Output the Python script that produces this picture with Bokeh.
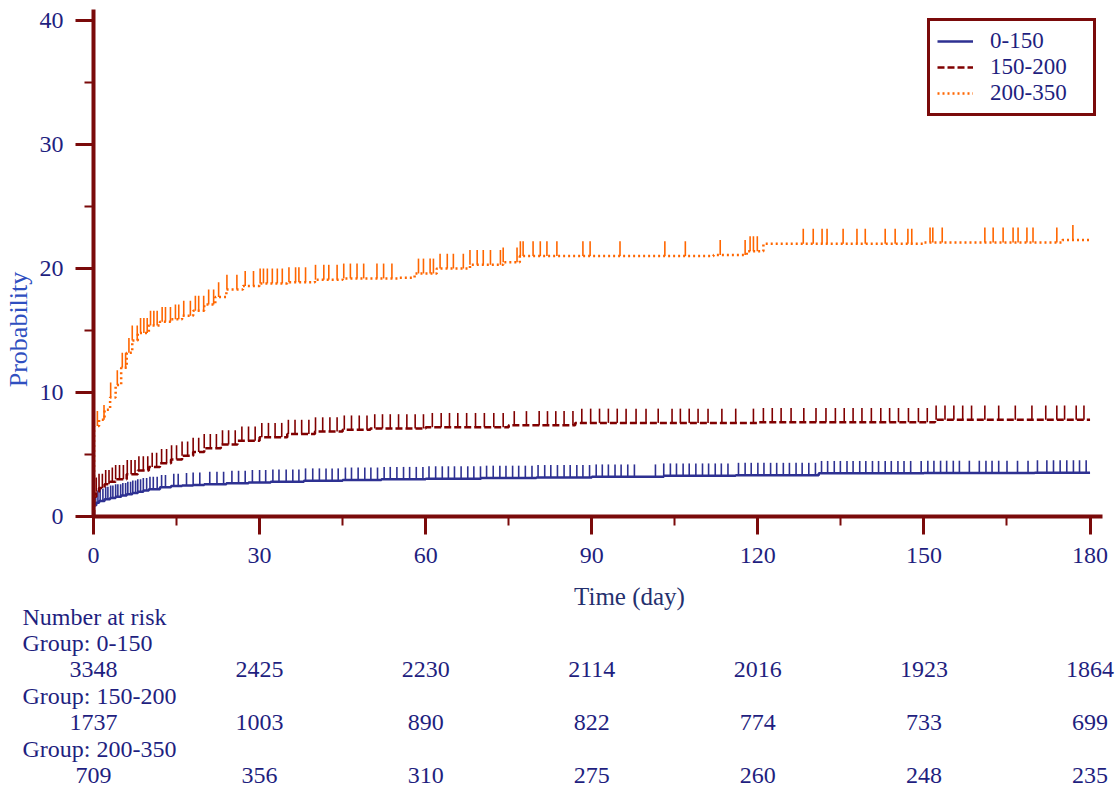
import numpy as np
from bokeh.plotting import figure
from bokeh.models import Range1d, SingleIntervalTicker, Legend, LegendItem
from bokeh.layouts import column, row
from bokeh.embed import file_html
from bokeh.resources import INLINE
from bokeh.core.properties import value

# ---------------- data ----------------
groups = ["0-150", "150-200", "200-350"]

# cumulative probability (%) step curves
t_0_150 = [0, 0.1, 0.5, 1, 2, 3, 4, 5, 6, 7, 8, 9, 10, 12, 14, 16, 18, 20, 24, 28, 32, 38,
           45, 52, 60, 70, 80, 90, 103, 116, 131, 150, 170, 180]
p_0_150 = [0.0, 0.9, 1.1, 1.25, 1.4, 1.5, 1.6, 1.7, 1.8, 1.9, 2.0, 2.1, 2.2, 2.35, 2.45, 2.5,
           2.55, 2.6, 2.68, 2.75, 2.8, 2.88, 2.95, 3.0, 3.05, 3.1, 3.15, 3.2, 3.28, 3.33,
           3.48, 3.5, 3.53, 3.53]

t_150_200 = [0, 0.1, 0.5, 1, 2, 3, 4, 6, 8, 10, 12, 14, 16, 18, 20, 23, 26, 30, 35, 40, 45,
             50, 60, 75, 87, 120, 152, 180]
p_150_200 = [0.0, 1.6, 2.0, 2.3, 2.6, 2.8, 3.0, 3.4, 3.7, 4.0, 4.3, 4.6, 4.9, 5.2, 5.5, 5.8,
             6.1, 6.4, 6.65, 6.85, 7.0, 7.1, 7.2, 7.35, 7.55, 7.6, 7.8, 7.8]

t_200_350 = [0, 0.1, 1, 2, 3, 4, 5, 6, 7, 8, 10, 12, 14, 16, 18, 20, 22, 24, 27, 30, 35, 40,
             45, 55, 58, 62, 68, 74, 77, 112, 118, 121, 150, 175, 180]
p_200_350 = [0.0, 7.3, 7.8, 8.6, 9.6, 10.6, 12.0, 13.2, 14.2, 14.8, 15.4, 15.7, 15.9, 16.2,
             16.6, 17.1, 17.7, 18.3, 18.6, 18.8, 18.9, 19.1, 19.2, 19.25, 19.6, 20.0, 20.3,
             20.5, 21.0, 21.1, 21.4, 22.0, 22.1, 22.3, 22.3]

# censoring times (days)
cens_0_150 = [0.4, 0.8, 1.2, 1.7, 2.2, 2.6, 3.1, 3.5, 4.0, 4.4, 4.9, 5.3, 5.8, 6.2, 6.7, 7.1,
              7.6, 8.0, 8.5, 9.0, 9.6, 10.2, 10.8, 11.5, 12.3, 13.0, 14.5, 15.3, 16.8, 18.0,
              19.2, 21.0, 22.3, 23.5, 25.0, 26.2, 27.4, 28.7, 30.0, 31.1, 32.4, 33.5, 34.8,
              36.0, 37.1, 38.3, 39.6, 40.8, 42.0, 43.1, 44.2, 45.5, 46.6, 47.8, 49.0, 50.1,
              51.3, 52.5, 53.6, 54.8, 56.0, 57.1, 58.3, 59.5, 60.6, 61.8, 63.0, 64.1, 65.2,
              66.4, 67.6, 68.7, 69.9, 71.0, 72.2, 73.4, 74.5, 75.7, 76.8, 78.0, 79.2, 80.3,
              81.5, 82.6, 83.8, 85.0, 86.1, 87.3, 88.4, 89.6, 90.8, 91.9, 93.0, 94.2, 95.3,
              96.5, 97.7, 101.5, 103.0, 104.2, 105.3, 106.5, 107.6, 108.8, 110.0, 111.1,
              112.3, 113.4, 114.6, 116.5, 117.7, 118.8, 120.0, 121.1, 122.3, 123.4, 124.6,
              125.7, 126.9, 128.0, 129.2, 130.4, 131.5, 132.6, 133.8, 134.9, 136.1, 137.2,
              138.4, 139.5, 140.7, 141.8, 143.0, 144.1, 145.3, 146.4, 147.6, 149.5, 150.7,
              151.8, 153.0, 154.1, 155.3, 156.4, 158.2, 160.0, 161.2, 162.3, 163.5, 165.0,
              166.9, 168.8, 170.5, 172.2, 173.4, 174.6, 175.8, 177.0, 178.1, 179.3]
cens_150_200 = [0.5, 1.0, 1.6, 2.2, 2.8, 3.4, 4.0, 4.7, 5.4, 6.1, 6.8, 7.5, 8.2, 9.0, 9.8,
                10.6, 11.4, 12.3, 13.2, 14.1, 15.0, 16.0, 17.0, 18.0, 19.0, 20.0, 21.1, 22.2,
                23.3, 24.4, 25.6, 26.8, 28.0, 29.2, 30.4, 31.6, 32.8, 34.0, 35.2, 36.4, 37.6,
                38.9, 40.1, 41.4, 42.7, 44.0, 45.3, 46.6, 48.0, 49.4, 50.8, 52.2, 53.6, 55.1,
                56.6, 58.1, 59.6, 61.2, 62.8, 64.3, 65.8, 67.4, 69.0, 70.6, 72.3, 74.0, 76.0,
                78.2, 80.5, 82.0, 83.5, 85.0, 86.6, 88.2, 89.8, 91.4, 93.0, 94.6, 96.2, 98.0,
                99.8, 102.0, 104.5, 106.0, 107.6, 109.2, 111.0, 113.5, 116.0, 119.2, 121.0,
                122.6, 124.2, 126.0, 128.3, 130.5, 132.3, 134.0, 135.6, 137.2, 138.8, 140.5,
                142.2, 143.8, 145.4, 147.2, 149.0, 150.6, 152.2, 153.8, 155.4, 157.0, 158.6,
                161.0, 163.5, 166.5, 169.5, 172.0, 174.0, 175.4, 177.5, 178.9]
cens_200_350 = [0.7, 1.9, 3.1, 4.3, 5.2, 5.8, 6.4, 7.0, 7.9, 8.5, 9.1, 9.7, 10.3, 10.9, 11.5,
                12.4, 13.0, 13.9, 14.8, 15.4, 16.3, 17.5, 18.4, 19.0, 19.9, 20.8, 21.7, 22.6,
                24.1, 25.9, 27.4, 28.9, 30.1, 30.7, 31.4, 32.3, 33.2, 34.1, 35.3, 36.5, 37.1,
                38.3, 40.1, 41.6, 42.5, 44.0, 45.2, 46.4, 47.6, 48.8, 51.2, 52.4, 53.9, 58.7,
                59.6, 60.8, 61.4, 62.6, 63.9, 65.0, 66.8, 68.0, 69.3, 70.4, 71.7, 73.5, 74.0,
                76.5, 77.1, 77.6, 79.4, 80.7, 81.9, 83.7, 88.4, 89.7, 95.1, 103.2, 106.9, 113.2,
                117.7, 118.6, 119.2, 119.9, 128.2, 130.0, 131.6, 132.5, 135.4, 137.9, 139.4,
                143.0, 144.8, 147.1, 147.8, 151.1, 151.6, 153.3, 161.0, 162.5, 164.3, 166.1,
                167.0, 168.6, 169.7, 174.0, 176.9]

risk_times = [0, 30, 60, 90, 120, 150, 180]
risk_0_150 = [3348, 2425, 2230, 2114, 2016, 1923, 1864]
risk_150_200 = [1737, 1003, 890, 822, 774, 733, 699]
risk_200_350 = [709, 356, 310, 275, 260, 248, 235]

# ---------------- style / layout ----------------
FONT = "Liberation Serif"
NAVY = "#1f1f7f"
AXIS = "#7a0a0a"
COLORS = ["#2e3192", "#800000", "#ff6600"]
DASHES = ["solid", "7 3", "2 3"]
MARK_H = [1.0, 1.15, 1.2]

W_TOTAL = 1115
LBL_W = 35                    # strip holding the rotated y title
FRAME_PAGE_L = 93             # frame left edge on the page
FRAME_R, FRAME_T, FRAME_H, BOTTOM = 13, 9, 507, 60
W_MAIN = W_TOTAL - LBL_W
FRAME_L = FRAME_PAGE_L - LBL_W
MAIN_H = FRAME_T + FRAME_H + BOTTOM
FRAME_W = W_MAIN - FRAME_L - FRAME_R
X_END = 182.25
Y_END = 40.89
TABLE_H = 214

p = figure(width=W_MAIN, height=MAIN_H, x_range=Range1d(0, X_END), y_range=Range1d(0, Y_END),
           output_backend="svg", toolbar_location=None,
           min_border_left=FRAME_L, min_border_right=FRAME_R,
           min_border_top=FRAME_T, min_border_bottom=BOTTOM)
p.outline_line_color = None
p.grid.visible = False
p.background_fill_color = "white"

p.xaxis.ticker = SingleIntervalTicker(interval=30, num_minor_ticks=2)
p.yaxis.ticker = SingleIntervalTicker(interval=10, num_minor_ticks=2)
for ax in (p.xaxis[0], p.yaxis[0]):
    ax.axis_line_color = AXIS
    ax.axis_line_width = 4
    ax.major_tick_line_color = AXIS
    ax.major_tick_line_width = 3
    ax.minor_tick_line_color = AXIS
    ax.minor_tick_line_width = 2
    ax.major_tick_out = 18
    ax.major_tick_in = 0
    ax.minor_tick_out = 9
    ax.minor_tick_in = 0
    ax.major_label_text_font = FONT
    ax.major_label_text_font_size = "24px"
    ax.major_label_text_color = NAVY
p.xaxis.major_label_standoff = 13
p.yaxis.major_label_standoff = 12

series = [(t_0_150, p_0_150, cens_0_150), (t_150_200, p_150_200, cens_150_200),
          (t_200_350, p_200_350, cens_200_350)]
items = []
for i, (tt, pp, cc) in enumerate(series):
    r = p.step(tt, pp, mode="after", line_color=COLORS[i], line_width=2.5,
               line_dash=DASHES[i])
    tt_a = np.array(tt, dtype=float)
    pp_a = np.array(pp, dtype=float)
    cc_a = np.array(cc, dtype=float)
    idx = np.searchsorted(tt_a, cc_a, side="right") - 1
    base = pp_a[idx]
    p.segment(x0=cc_a, y0=base, x1=cc_a, y1=base + MARK_H[i],
              line_color=COLORS[i], line_width=1.6)
    items.append(LegendItem(label=groups[i], renderers=[r]))

legend = Legend(items=items, location=(834, 400), orientation="vertical",
                border_line_color=AXIS, border_line_width=3, border_line_alpha=1,
                background_fill_color="white", background_fill_alpha=1,
                label_text_font=FONT, label_text_font_size="23px", label_text_color=NAVY,
                glyph_width=36, glyph_height=20, label_standoff=17, label_width=96,
                padding=7, spacing=0, margin=0)
p.add_layout(legend)

# ---------------- y-axis title strip ----------------
lf = figure(width=LBL_W, height=MAIN_H, x_range=Range1d(0, LBL_W), y_range=Range1d(MAIN_H, 0),
            output_backend="svg", toolbar_location=None, min_border=0,
            min_border_left=0, min_border_right=0, min_border_top=0, min_border_bottom=0,
            x_axis_location=None, y_axis_location=None)
lf.outline_line_color = None
lf.grid.visible = False
lf.text(x=[18], y=[329], text=["Probability"], angle=[np.pi / 2],
        text_font=value(FONT), text_font_size="26px", text_color="#2f4fc0",
        text_align="center", text_baseline="middle")

# ---------------- x-axis title + number-at-risk table ----------------
px_per_day = FRAME_W / X_END
tx0 = -FRAME_PAGE_L / px_per_day
tx1 = tx0 + W_TOTAL / px_per_day
t = figure(width=W_TOTAL, height=TABLE_H, x_range=Range1d(tx0, tx1),
           y_range=Range1d(TABLE_H, 0),
           output_backend="svg", toolbar_location=None, min_border=0,
           min_border_left=0, min_border_right=0, min_border_top=0, min_border_bottom=0,
           x_axis_location=None, y_axis_location=None)
t.outline_line_color = None
t.grid.visible = False

for fig in (p, t, lf):
    if "frame_align" in fig.properties():
        fig.frame_align = False

t.text(x=[(629 - FRAME_PAGE_L) / px_per_day], y=[20], text=["Time (day)"],
       text_font=value(FONT), text_font_size="25px", text_color="#24306e",
       text_align="center", text_baseline="middle")

row_y = [40, 66.5, 93, 119.5, 146, 172.5, 199]
label_x = tx0 + 22 / px_per_day
header = ["Number at risk"] + ["Group: " + g for g in groups]
t.text(x=[label_x] * 4, y=[row_y[0], row_y[1], row_y[3], row_y[5]], text=header,
       text_font=value(FONT), text_font_size="24px", text_color=NAVY,
       text_align="left", text_baseline="middle")
for k, counts in enumerate([risk_0_150, risk_150_200, risk_200_350]):
    t.text(x=risk_times, y=[row_y[2 + 2 * k]] * len(risk_times),
           text=[str(c) for c in counts],
           text_font=value(FONT), text_font_size="24px", text_color=NAVY,
           text_align="center", text_baseline="middle")

layout = column(row(lf, p, spacing=0), t, spacing=0)
open("out.html", "w").write(file_html(layout, INLINE))
